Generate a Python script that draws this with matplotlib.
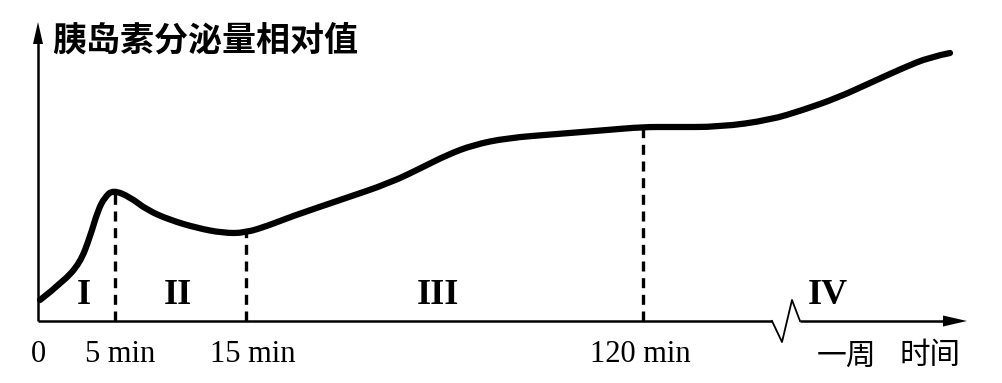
import matplotlib
matplotlib.use("Agg")
import matplotlib.pyplot as plt
from matplotlib.patches import FancyArrow, PathPatch
from matplotlib.path import Path
import numpy as np

plt.rcParams['font.family'] = ['Noto Sans CJK SC', 'DejaVu Sans']

# Curve: x = horizontal position along the (non-linear) time axis,
# y = relative insulin secretion (axis units, 0 = time axis)
curve_x = [2, 25, 42, 52, 60, 67, 75, 92, 109, 132, 159, 185, 207, 232,
           252, 302, 352, 385, 409, 435, 469, 519, 569, 605,
           632, 682, 732, 765, 799, 832, 865, 892, 912]
curve_y = [21, 39, 58, 84, 111, 124, 131, 124, 111, 101, 93, 88, 88, 96,
           104, 121, 138, 154, 166, 176, 183, 187, 191, 194,
           194, 194, 201, 211, 223, 238, 253, 264, 268]

# Dashed guide lines at phase boundaries
guide_x = [77, 208, 605]
guide_top = [131, 89, 194]

tick_pos = [0, 82, 215, 602]
tick_labels = ['0', '5 min', '15 min', '120 min']
week_pos = 809
week_label = '一周'
xlabel_pos = 892
xlabel = '时间'
ylabel = '胰岛素分泌量相对值'

phase_labels = ['I', 'II', 'III', 'IV']
phase_pos = [46, 140, 400, 790]

break_x = [734, 744, 754, 762]
break_y = [0, -21, 21, 0]

fig = plt.figure(figsize=(10.03, 3.83), dpi=100)
ax = fig.add_axes([0, 0, 1, 1])
ax.set_xlim(-38, 965)
ax.set_ylim(-62, 321)
ax.axis('off')

k = 'black'
# axes lines
ax.plot([0, 0], [0, 280], color=k, lw=1.8, solid_capstyle='butt')
ax.add_patch(FancyArrow(0, 275, 0, 24, width=0, head_width=10, head_length=22,
                        length_includes_head=True, color=k, lw=0))
ax.plot([0, break_x[0]], [0, 0], color=k, lw=1.8, solid_capstyle='butt')
ax.plot(break_x, break_y, color=k, lw=1.3)
ax.plot([break_x[-1], 912], [0, 0], color=k, lw=1.8, solid_capstyle='butt')
ax.add_patch(FancyArrow(905, 0, 24, 0, width=0, head_width=11, head_length=24,
                        length_includes_head=True, color=k, lw=0))

# dashed guides
for gx, gt in zip(guide_x, guide_top):
    ax.plot([gx, gx], [0, gt], color=k, lw=2.4, ls=(0, (3, 2)))

# curve, drawn as a smooth quadratic path through the read points
pts = np.column_stack([curve_x, curve_y]).astype(float)
verts = [pts[0]]
codes = [Path.MOVETO]
for i in range(1, len(pts) - 1):
    mid = (pts[i] + pts[i + 1]) / 2
    if i == len(pts) - 2:
        mid = pts[i + 1]
    verts += [pts[i], mid]
    codes += [Path.CURVE3, Path.CURVE3]
path = Path(verts, codes)
ax.add_patch(PathPatch(path, fill=False, edgecolor=k, lw=4.5,
                       capstyle='round', joinstyle='round', transform=ax.transData))

# tick labels
serif = ['Liberation Serif', 'DejaVu Serif']
for p, t in zip(tick_pos, tick_labels):
    ax.text(p, -34, t, ha='center', va='center', fontsize=22, family=serif)
ax.text(week_pos, -35, week_label, ha='center', va='center', fontsize=21.5)
ax.text(xlabel_pos, -35, xlabel, ha='center', va='center', fontsize=22)
ax.text(14, 281, ylabel, ha='left', va='center', fontsize=24.5, fontweight='bold')

for p, t in zip(phase_pos, phase_labels):
    ax.text(p, 25, t, ha='center', va='center', fontsize=26, fontweight='bold',
            family=serif)

fig.savefig('out.png', dpi=100)
